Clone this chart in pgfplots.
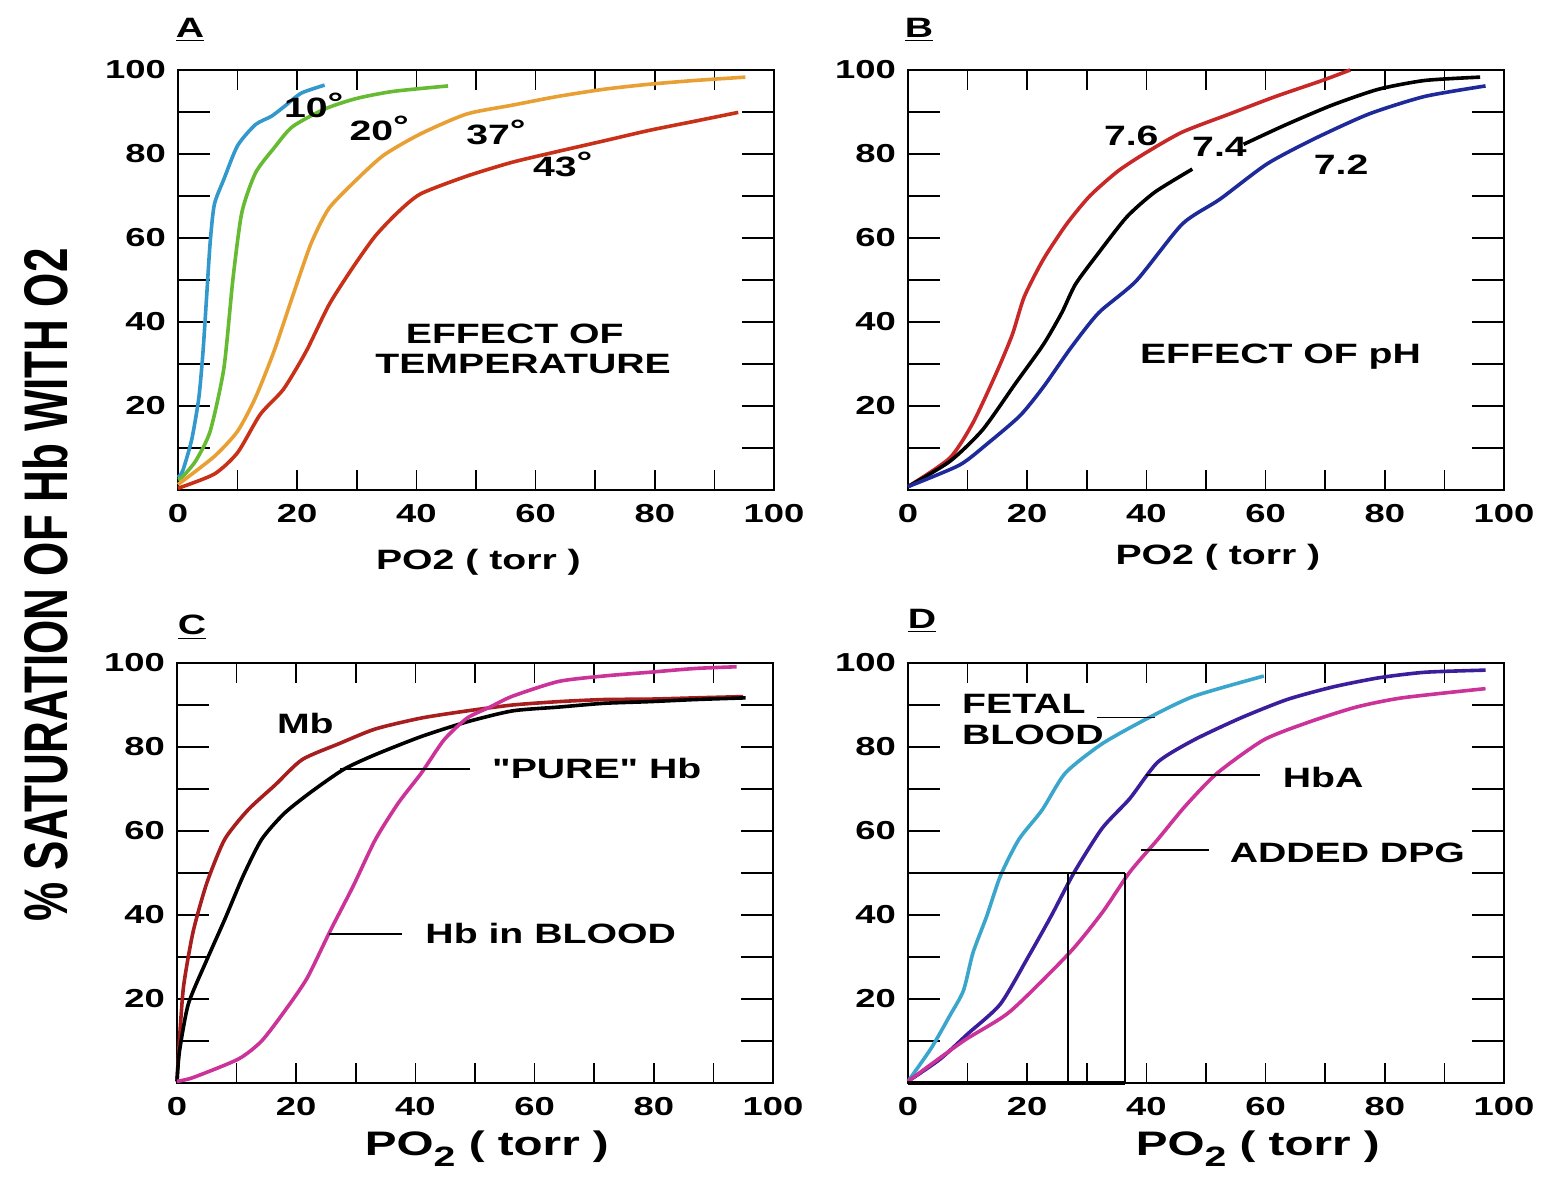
\documentclass[border=0pt]{standalone}
\usepackage{pgfplots}
\pgfplotsset{compat=1.18}
\usepackage{fontspec}
\setmainfont{Liberation Sans}[FakeStretch=1.4]
\newfontfamily\plainsans{Liberation Sans}
\newfontfamily\qfont{Liberation Sans}[FakeStretch=1.4, Ligatures=TeXOff]

\definecolor{cBlue}{HTML}{3399CC}
\definecolor{cGreen}{HTML}{66BB33}
\definecolor{cOrange}{HTML}{E8A035}
\definecolor{cRed}{HTML}{C83018}
\definecolor{cRedB}{HTML}{C82828}
\definecolor{cNavy}{HTML}{1E2A99}
\definecolor{cMb}{HTML}{A81E1E}
\definecolor{cMag}{HTML}{CC3399}
\definecolor{cCyan}{HTML}{3AA6CC}
\definecolor{cPurp}{HTML}{3A1E9C}

\newcommand{\lbl}{\fontsize{14}{14}\selectfont\bfseries}
\newcommand{\tkl}{\fontsize{13}{13}\selectfont\bfseries}
\newcommand{\dg}{\raisebox{0.2em}{°}}

\pgfplotsset{
  panel/.style={
    scale only axis, width=298pt, height=210pt,
    xmin=0, xmax=100, ymin=0, ymax=100,
    xtick={0,10,...,100}, ytick={0,10,...,100},
    xticklabels={0,,20,,40,,60,,80,,100},
    yticklabels={,,20,,40,,60,,80,,100},
    tick align=inside,
    axis line style={line width=1pt},
    xtick style={line width=0.8pt, black, /pgfplots/major tick length=10pt},
    ytick style={line width=0.8pt, black, /pgfplots/major tick length=16pt},
    /pgf/number format/assume math mode=true,
    ticklabel style={font=\tkl},
    xticklabel style={yshift=-3.5pt},
    yticklabel style={xshift=-2.5pt},
    clip=false,
    every axis plot/.append style={line width=1.8pt, line join=round, smooth, tension=0.4},
  },
  leader/.style={line width=0.8pt, black, sharp plot},
}

\begin{document}
\begin{tikzpicture}
\path[use as bounding box] (0,0) rectangle (775pt,588pt);

% ---------- A ----------
\begin{axis}[panel, at={(89pt,343pt)}, anchor=south west,
  xlabel={PO2 ( torr )},
  xlabel style={at={(axis description cs:0.504,0)}, anchor=base, yshift=-40pt, font=\lbl}]
\addplot[cBlue] coordinates {(0,3) (0.8,4.6) (2.3,12) (3.5,22) (4.2,33) (4.8,46) (5.4,59) (6.1,68) (7.7,74) (10,82) (13,87) (15.7,89) (18,91.5) (20.7,94.5) (24.6,96.4)};
\addplot[cGreen] coordinates {(0,2.5) (0.8,3.2) (3,7) (5.4,14) (7.7,29) (9.2,50) (10.7,66) (13,75.5) (16.1,81.4) (19.2,86.5) (24.6,90.7) (29.9,93.2) (36.1,94.9) (45.3,96.2)};
\addplot[cOrange] coordinates {(0,1.3) (6.1,8) (10,14) (13,22) (16.1,33) (19.2,46) (22.3,58.6) (25.3,67) (29.9,73.8) (34.5,79.7) (40.7,84.8) (48.4,89.5) (56,91.6) (63.7,93.7) (71.4,95.4) (79,96.6) (86.7,97.5) (95.2,98.3)};
\addplot[cRed] coordinates {(0,0.4) (6.1,3.8) (10,8.9) (13.8,18) (17.7,24) (21.5,33) (25.3,44) (29.2,52.7) (33,60.3) (36.8,66) (40.7,70.5) (48.4,74.7) (56,78) (63.7,80.6) (71.4,83.1) (79,85.6) (86.7,87.8) (94,89.9)};
\node[anchor=base west, font=\lbl] at (axis cs:16.6,88.6) {10\dg};
\node[anchor=base west, font=\lbl] at (axis cs:27.6,83.1) {20\dg};
\node[anchor=base west, font=\lbl] at (axis cs:47.2,82.2) {37\dg};
\node[anchor=base west, font=\lbl] at (axis cs:58.4,74.6) {43\dg};
\node[anchor=base, font=\lbl] at (axis cs:56.5,34.8) {EFFECT OF};
\node[anchor=base, font=\lbl] at (axis cs:57.9,27.7) {TEMPERATURE};
\end{axis}

% ---------- B ----------
\begin{axis}[panel, at={(454pt,343pt)}, anchor=south west,
  xlabel={PO2 ( torr )},
  xlabel style={at={(axis description cs:0.52,0)}, anchor=base, yshift=-37.5pt, font=\lbl}]
\addplot[cRedB] coordinates {(0,0.8) (7,7.6) (10.9,16) (14.8,27.8) (17.5,37) (19.5,46) (22.7,54.9) (26.6,63.3) (30.5,70) (35.2,75.9) (39.8,80.2) (46,85.2) (53.9,89.5) (61.7,93.7) (69.5,97.5) (74.2,100)};
\addplot[black] coordinates {(0,0.8) (7,6.8) (12.5,14.3) (18,25.3) (22.7,34.6) (25.8,42.2) (28.1,49) (32,56.5) (36.7,65) (41.4,70.9) (47.7,76.4)};
\addplot[black] coordinates {(56.3,82.3) (63.3,86.9) (71.1,91.6) (78.9,95.4) (86.7,97.5) (96,98.3)};
\addplot[cNavy] coordinates {(0,0.8) (8.6,5.9) (13.3,11) (18.8,17.7) (22.7,24.5) (27.3,33.8) (32,42.2) (38.3,49.8) (46,63.3) (52.3,69.2) (60.2,77.6) (68,83.5) (77.3,89.5) (86.7,93.7) (96.9,96.2)};
\node[anchor=base west, font=\lbl] at (axis cs:31.7,82) {7.6};
\node[anchor=base west, font=\lbl] at (axis cs:46.5,79.5) {7.4};
\node[anchor=base west, font=\lbl] at (axis cs:66.9,75.2) {7.2};
\node[anchor=base, font=\lbl] at (axis cs:62.5,30.1) {EFFECT OF pH};
\end{axis}

% ---------- C ----------
\begin{axis}[panel, at={(88.5pt,46.5pt)}, anchor=south west,
  xlabel={PO\raisebox{-0.35em}{\fontsize{14}{14}\selectfont 2} ( torr )},
  xlabel style={at={(axis description cs:0.52,0)}, anchor=base, yshift=-36pt, font=\fontsize{17}{17}\selectfont\bfseries}]
\addplot[cMb] coordinates {(0,0.4) (0.4,10) (1.1,23) (2.7,36) (5,47.6) (8,58) (11.9,65) (16.5,71) (21,77) (27.2,80.8) (33.3,84.3) (41,86.9) (48.7,88.6) (56.3,90) (64,90.8) (71.6,91.3) (79.3,91.4) (87,91.7) (95,92)};
\addplot[black] coordinates {(0,0.4) (0.4,7.4) (1.9,18.8) (5,29.3) (8,38.9) (11.1,49.3) (14.2,58) (18,64.2) (22.6,69.4) (28,74.7) (33.3,78.2) (41,82.5) (48.7,86) (56.3,88.6) (64,89.5) (71.6,90.4) (79.3,90.8) (87,91.3) (95.4,91.7)};
\addplot[cMag] coordinates {(0,0.4) (2.7,1.3) (10.3,5.7) (14.2,10) (18,17) (21.8,24.9) (25.7,36.2) (29.5,46.7) (33.3,58) (37.2,66.8) (41,73.8) (44.8,81.7) (48.7,86.9) (52.5,89.5) (56.3,92.1) (64,95.6) (71.6,96.9) (79.3,97.8) (87,98.7) (93.9,99.1)};
\addplot[leader] coordinates {(27.4,74.8) (49.2,74.8)};
\addplot[leader] coordinates {(25.5,35.5) (37.8,35.5)};
\node[anchor=base west, font=\lbl] at (axis cs:15.6,83.1) {Mb};
\node[anchor=base west, font=\lbl] at (axis cs:51.7,72.6) {{\qfont\bfseries"PURE"} Hb};
\node[anchor=base west, font=\lbl] at (axis cs:40.5,33.1) {Hb in BLOOD};
\end{axis}

% ---------- D ----------
\begin{axis}[panel, at={(454pt,46.5pt)}, anchor=south west,
  xlabel={PO\raisebox{-0.35em}{\fontsize{14}{14}\selectfont 2} ( torr )},
  xlabel style={at={(axis description cs:0.587,0)}, anchor=base, yshift=-36pt, font=\fontsize{17}{17}\selectfont\bfseries}]
\addplot[cCyan] coordinates {(0,0.4) (3.9,8.3) (7,16) (9.3,22) (10.9,31) (13.2,39.7) (15.5,49.3) (18.6,58) (22.5,65) (26.4,73.8) (32.6,80.8) (40.3,86.9) (48,92.1) (59.7,96.9)};
\addplot[cPurp] coordinates {(0,0.4) (5.4,5.7) (10.1,11.8) (15.5,18.8) (20.2,30.1) (24,39.7) (27.9,50.2) (32.6,60.7) (37.2,67.7) (41.9,76.4) (48,81.7) (55.8,86.9) (63.6,91.3) (71.3,94.3) (79.1,96.5) (86.8,97.8) (96.9,98.3)};
\addplot[cMag] coordinates {(0,0.4) (9.3,10) (17.1,17) (27.1,31) (32.6,40.6) (37.2,50.2) (41.9,58) (46.5,65.9) (51.9,73.8) (59.7,81.7) (67.4,86) (75.2,89.5) (82.9,91.7) (96.9,93.9)};
\addplot[leader] coordinates {(0,50) (36.4,50)};
\addplot[leader] coordinates {(26.8,0) (26.8,50)};
\addplot[leader] coordinates {(36.4,0) (36.4,50)};
\addplot[leader, line width=2pt] coordinates {(0,0) (36.4,0)};
\addplot[leader] coordinates {(31.7,87) (41.4,87)};
\addplot[leader] coordinates {(39.9,73.4) (59.1,73.4)};
\addplot[leader] coordinates {(39.1,55.5) (50.5,55.5)};
\node[anchor=base west, font=\lbl] at (axis cs:7.9,87.9) {FETAL};
\node[anchor=base west, font=\lbl] at (axis cs:7.9,80.5) {BLOOD};
\node[anchor=base west, font=\lbl] at (axis cs:61.7,70.4) {HbA};
\node[anchor=base west, font=\lbl] at (axis cs:52.8,52.4) {ADDED DPG};
\end{axis}

% panel letters and common y label
\node[anchor=base, font=\lbl] at (95pt,569pt) {\underline{A}};
\node[anchor=base, font=\lbl] at (459.5pt,569pt) {\underline{B}};
\node[anchor=base, font=\lbl] at (96pt,270.5pt) {\underline{C}};
\node[anchor=base, font=\lbl] at (461pt,273.5pt) {\underline{D}};
\node[rotate=90] at (22.5pt,295.5pt) {\scalebox{1}[1.4]{\plainsans\fontsize{22}{22}\selectfont\bfseries \% SATURATION OF Hb WITH O2}};
\end{tikzpicture}
\end{document}
